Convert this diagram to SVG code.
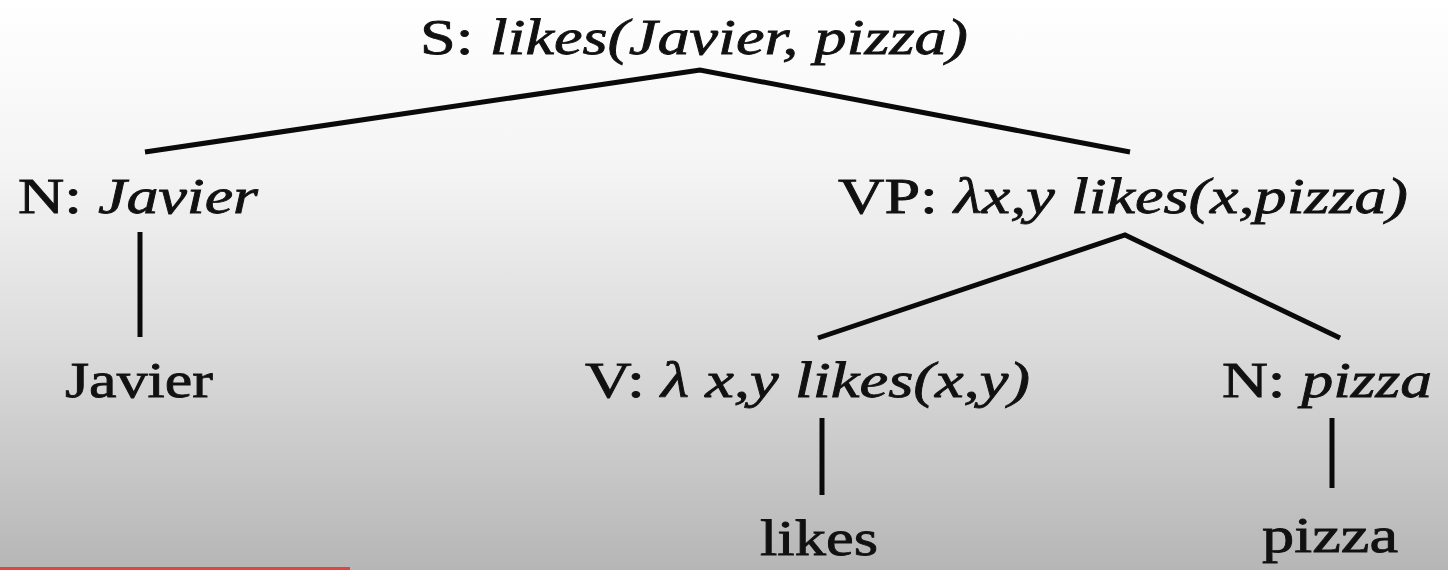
<svg xmlns="http://www.w3.org/2000/svg" width="1448" height="570" viewBox="0 0 1448 570">
  <defs>
    <linearGradient id="bg" x1="0" y1="0" x2="0" y2="1">
      <stop offset="0" stop-color="#ffffff"/>
      <stop offset="0.3" stop-color="#f4f4f4"/>
      <stop offset="0.6" stop-color="#dcdcdc"/>
      <stop offset="1" stop-color="#b6b6b6"/>
    </linearGradient>
    <style>
      .t { font-family: "Liberation Serif", "Times New Roman", serif; font-size: 50px; fill: #111; stroke: #111; stroke-width: 0.8px; }
      .i { font-style: italic; }
      .e { stroke: #0a0a0a; stroke-width: 5; fill: none; stroke-linejoin: miter; stroke-linecap: butt; }
    </style>
  </defs>
  <rect x="0" y="0" width="1448" height="570" fill="url(#bg)"/>
  <rect x="0" y="567" width="350" height="3" fill="#e0443c"/>

  <g id="connectors">
    <polyline class="e" points="145,152 700,70 1130,152"/>
    <line class="e" x1="140" y1="232" x2="140" y2="337"/>
    <polyline class="e" points="818,338 1125,235 1340,338"/>
    <line class="e" x1="822" y1="418" x2="822" y2="495"/>
    <line class="e" x1="1332" y1="418" x2="1332" y2="488"/>
  </g>

  <g id="node-S">
    <text class="t" x="420" y="54" textLength="548" lengthAdjust="spacingAndGlyphs">S: <tspan class="i">likes(Javier, pizza)</tspan></text>
  </g>
  <g id="node-N-Javier">
    <text class="t" x="18" y="213" textLength="240" lengthAdjust="spacingAndGlyphs">N: <tspan class="i">Javier</tspan></text>
  </g>
  <g id="node-VP">
    <text class="t" x="838" y="213" textLength="570" lengthAdjust="spacingAndGlyphs">VP: <tspan class="i">λx,y likes(x,pizza)</tspan></text>
  </g>
  <g id="leaf-Javier">
    <text class="t" x="65" y="397" textLength="148" lengthAdjust="spacingAndGlyphs">Javier</text>
  </g>
  <g id="node-V">
    <text class="t" x="585" y="397" textLength="445" lengthAdjust="spacingAndGlyphs">V: <tspan class="i">λ x,y likes(x,y)</tspan></text>
  </g>
  <g id="node-N-pizza">
    <text class="t" x="1222" y="397" textLength="210" lengthAdjust="spacingAndGlyphs">N: <tspan class="i">pizza</tspan></text>
  </g>
  <g id="leaf-likes">
    <text class="t" x="760" y="555" textLength="118" lengthAdjust="spacingAndGlyphs">likes</text>
  </g>
  <g id="leaf-pizza">
    <text class="t" x="1262" y="552" textLength="136" lengthAdjust="spacingAndGlyphs">pizza</text>
  </g>
</svg>
